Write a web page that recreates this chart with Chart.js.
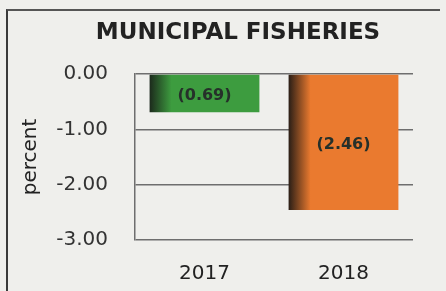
<!DOCTYPE html>
<html>
<head>
<meta charset="utf-8">
<script src="https://cdn.jsdelivr.net/npm/chart.js@4/dist/chart.umd.min.js"></script>
<style>
  html, body { margin: 0; padding: 0; background: #efefec; }
  #wrap { position: relative; width: 446px; height: 291px; }
  #frame {
    position: absolute; left: 6px; top: 9px; width: 432px; height: 290px;
    border-left: 2px solid #3a3a3a; border-top: 2px solid #555;
    pointer-events: none;
  }
</style>
</head>
<body>
<div id="wrap">
  <canvas id="chart" width="446" height="291"></canvas>
  <div id="frame"></div>
</div>
<script>
const chartTitle = 'MUNICIPAL FISHERIES';
const years = ['2017', '2018'];
const growth = [-0.69, -2.46];
const yTicks = [0, -1, -2, -3];

const barColors = ['#3d9c3f', '#ea7a2f'];
const darkEdge = ['#1c2a1c', '#2a1e16'];

function barFill(ctx) {
  const chart = ctx.chart;
  const xs = chart.scales.x;
  const i = ctx.dataIndex;
  if (!chart.chartArea || !xs || i === undefined) return barColors[i || 0];
  const cx = xs.getPixelForValue(i);
  const w = (xs.width / years.length) * 0.79;
  const g = chart.ctx.createLinearGradient(cx - w / 2, 0, cx + w / 2, 0);
  g.addColorStop(0, darkEdge[i]);
  g.addColorStop(0.2, barColors[i]);
  g.addColorStop(1, barColors[i]);
  return g;
}

// title drawn by hand so it sits where the original has it
const titleText = {
  id: 'titleText',
  afterDraw(chart) {
    const c = chart.ctx;
    c.save();
    c.font = 'bold 23px "DejaVu Sans"';
    c.fillStyle = '#222';
    c.textAlign = 'center';
    c.textBaseline = 'middle';
    c.fillText(chartTitle, 238, 33);
    c.restore();
  }
};

// value labels in the middle of each bar, written as (x.xx)
const barLabels = {
  id: 'barLabels',
  afterDatasetsDraw(chart) {
    const c = chart.ctx;
    const meta = chart.getDatasetMeta(0);
    c.save();
    c.font = 'bold 16px "DejaVu Sans"';
    c.fillStyle = '#26302a';
    c.textAlign = 'center';
    c.textBaseline = 'middle';
    meta.data.forEach((bar, i) => {
      const v = growth[i];
      const txt = v < 0 ? '(' + Math.abs(v).toFixed(2) + ')' : v.toFixed(2);
      c.fillText(txt, bar.x, (bar.y + bar.base) / 2 + 2);
    });
    c.restore();
  }
};

new Chart(document.getElementById('chart'), {
  type: 'bar',
  data: {
    labels: years,
    datasets: [{
      data: growth,
      backgroundColor: barFill,
      borderWidth: 0,
      barPercentage: 0.79,
      categoryPercentage: 1
    }]
  },
  options: {
    responsive: false,
    animation: false,
    layout: { padding: { left: 14, right: 33, top: 74, bottom: 5 } },
    plugins: {
      legend: { display: false },
      tooltip: { enabled: false },
      title: { display: false }
    },
    scales: {
      x: {
        afterFit(scale) { scale.height = 46; },
        grid: { display: false, drawTicks: false },
        border: { display: false },
        ticks: {
          color: '#222',
          padding: 22,
          maxRotation: 0,
          font: { family: 'DejaVu Sans', size: 20 }
        }
      },
      y: {
        min: -3,
        max: 0,
        afterFit(scale) { scale.width = 121; },
        afterBuildTicks(scale) { scale.ticks = yTicks.map(v => ({ value: v })); },
        grid: { color: '#6e6e6e', lineWidth: 1.5, drawTicks: false },
        border: { display: true, color: '#6e6e6e', width: 1.5 },
        ticks: {
          color: '#333',
          padding: 27,
          font: { family: 'DejaVu Sans', size: 20 },
          callback: v => v.toFixed(2)
        },
        title: {
          display: true,
          text: 'percent',
          color: '#222',
          padding: { top: 5, bottom: 0 },
          font: { family: 'DejaVu Sans', size: 20 }
        }
      }
    }
  },
  plugins: [barLabels, titleText]
});
</script>
</body>
</html>
